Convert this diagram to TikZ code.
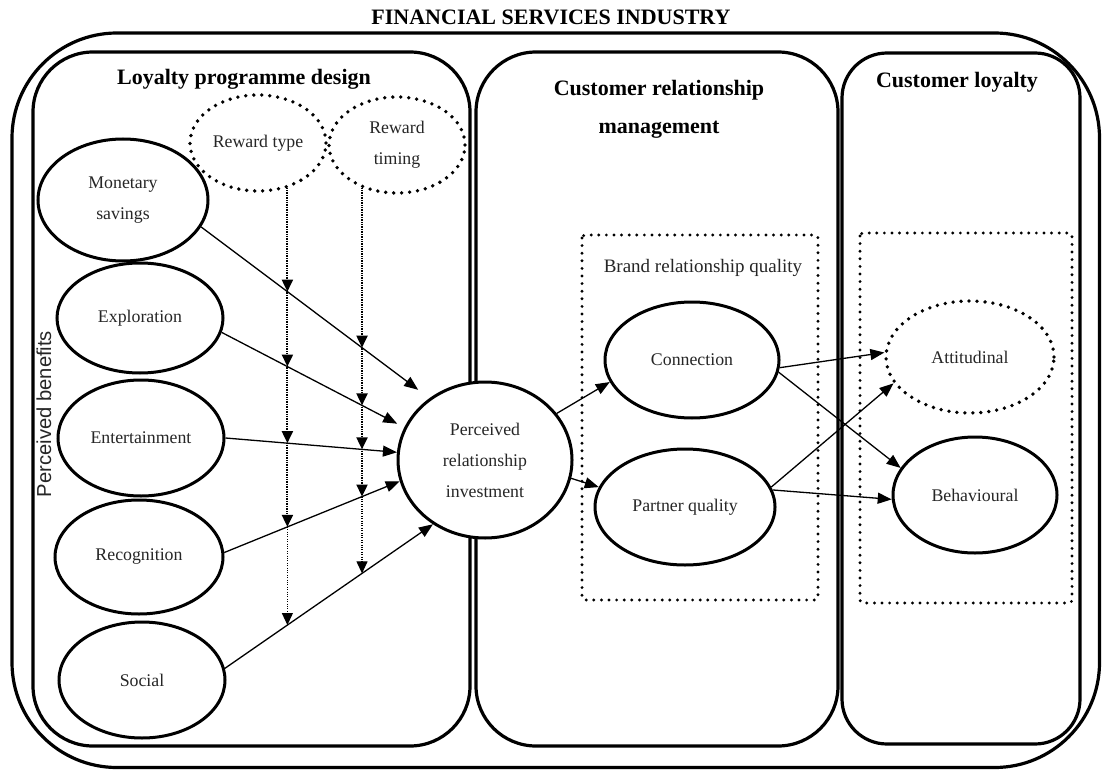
\documentclass[tikz,border=0pt]{standalone}
\usepackage{fontspec}
\setmainfont{Liberation Serif}
\newfontfamily\benefitsfont{Liberation Sans}
\usetikzlibrary{shapes.geometric,arrows.meta,intersections}

\newcommand\labelsize{\fontsize{17.8}{31}\selectfont}
\newcommand\headingsize{\fontsize{22}{38}\selectfont}

\begin{document}
\begin{tikzpicture}[x=1pt,y=1pt,
  panel/.style={draw, line width=3.2pt, rounded corners=#1},
  oval/.style={ellipse, draw, line width=3pt, inner sep=0pt, align=center,
    font=\labelsize, text=black!85},
  dotoval/.style={ellipse, draw, line width=3.8pt, dash pattern=on 0pt off 8pt,
    line cap=round, inner sep=0pt, align=center, font=\labelsize, text=black!85},
  dotbox/.style={draw, line width=3.2pt, dash pattern=on 0pt off 7.6pt,
    line cap=round, rounded corners=3pt},
  link/.style={line width=1.3pt, -{Triangle[length=14pt,width=11pt]}},
  modlink/.style={line width=2pt, dash pattern=on 0.9pt off 0.8pt,
    -{Triangle[length=12pt,width=11pt]}},
  modend/.style={line width=1.1pt, dash pattern=on 1pt off 1.4pt,
    -{Triangle[length=12pt,width=11pt]}},
  heading/.style={font=\headingsize\bfseries, align=center},
]
% canvas
\fill[white] (0,0) rectangle (1102,-770);
\path[use as bounding box] (0,0) rectangle (1102,-770);

% industry frame and the three panels
\node[heading] (industry) at (551,-17) {FINANCIAL SERVICES INDUSTRY};
\draw[panel=105] (12,-33) rectangle (1099.5,-767.5);
\draw[panel=60] (33,-52) rectangle (470,-746);
\draw[panel=60] (476,-52) rectangle (838,-746);
\draw[panel=45] (842,-53) rectangle (1080,-744);

\node[heading] (lpd) at (244,-79) {Loyalty programme design};
\node[heading] (crm) at (659,-109) {Customer relationship\\management};
\node[heading] (cl) at (957,-82) {Customer loyalty};

\node[rotate=90, font=\benefitsfont\fontsize{20.2}{24}\selectfont, text=black!85]
  (pb) at (44,-414) {Perceived benefits};

% grouping boxes
\draw[dotbox] (582,-235) rectangle (818,-600);
\draw[dotbox] (860,-233) rectangle (1072,-603);
\node[font=\fontsize{19}{22}\selectfont, text=black!85] (brq) at (703,-268)
  {Brand relationship quality};

% perceived benefits
\node[oval, minimum width=170pt, minimum height=122pt] (ms) at (123,-200) {Monetary\\savings};
\node[oval, minimum width=166pt, minimum height=110pt] (ex) at (140,-318) {Exploration};
\node[oval, minimum width=166pt, minimum height=116pt] (en) at (141,-438) {Entertainment};
\node[oval, minimum width=168pt, minimum height=114pt] (re) at (139,-557) {Recognition};
\node[oval, minimum width=166pt, minimum height=116pt] (so) at (142,-680) {Social};

% moderators
\node[dotoval, minimum width=136pt, minimum height=96pt] (rt) at (258,-143) {Reward type};
\node[dotoval, minimum width=136pt, minimum height=96pt] (rw) at (397,-145) {Reward\\timing};

% mediator and outcomes
\node[oval, fill=white, minimum width=174pt, minimum height=156pt] (pri) at (485,-460)
  {Perceived\\relationship\\investment};
\node[oval, minimum width=174pt, minimum height=116pt] (co) at (692,-360) {Connection};
\node[oval, minimum width=180pt, minimum height=116pt] (pq) at (685,-507) {Partner quality};
\node[dotoval, minimum width=168pt, minimum height=112pt] (at) at (970,-357) {Attitudinal};
\node[oval, minimum width=164pt, minimum height=116pt] (be) at (975,-495) {Behavioural};

% benefits -> investment
\draw[link, shorten >=14pt, name path=lms] (ms.-19) -- (pri.132);
\draw[link, shorten >=8pt, name path=lex] (ex.-10) -- (pri.158);
\draw[link, name path=len] (en.0) -- (pri.175);
\draw[link, name path=lre] (re.3) -- (pri.194);
\draw[link, name path=lso] (so.8) -- (pri.231);

% investment -> brand relationship quality -> loyalty
\draw[link] (pri.33) -- (co.195);
\draw[link] (pri.-12) -- (pq.167);
\draw[link] (co.-5) -- (at.177);
\draw[link] (co.-8) -- (be.160);
\draw[link] (pq.13) -- (at.199);
\draw[link] (pq.11) -- (be.183);

% moderating paths: vertical guides and their crossings
\path[name path=vtype] (rt.-57) -- ++(0,-600);
\path[name path=vtime] (rw.231) -- ++(0,-600);
\path[name intersections={of=vtype and lms, by=a1}];
\path[name intersections={of=vtype and lex, by=a2}];
\path[name intersections={of=vtype and len, by=a3}];
\path[name intersections={of=vtype and lre, by=a4}];
\path[name intersections={of=vtype and lso, by=a5}];
\path[name intersections={of=vtime and lms, by=b1}];
\path[name intersections={of=vtime and lex, by=b2}];
\path[name intersections={of=vtime and len, by=b3}];
\path[name intersections={of=vtime and lre, by=b4}];
\path[name intersections={of=vtime and lso, by=b5}];

\draw[modlink] (rt.-57) -- (a1);
\draw[modlink] (a1) -- (a2);
\draw[modlink] (a2) -- (a3);
\draw[modlink] (a3) -- (a4);
\draw[modend] (a4) -- (a5);

\draw[modlink] (rw.231) -- (b1);
\draw[modlink] (b1) -- (b2);
\draw[modlink] (b2) -- (b3);
\draw[modlink] (b3) -- (b4);
\draw[modend] (b4) -- (b5);
\end{tikzpicture}
\end{document}
